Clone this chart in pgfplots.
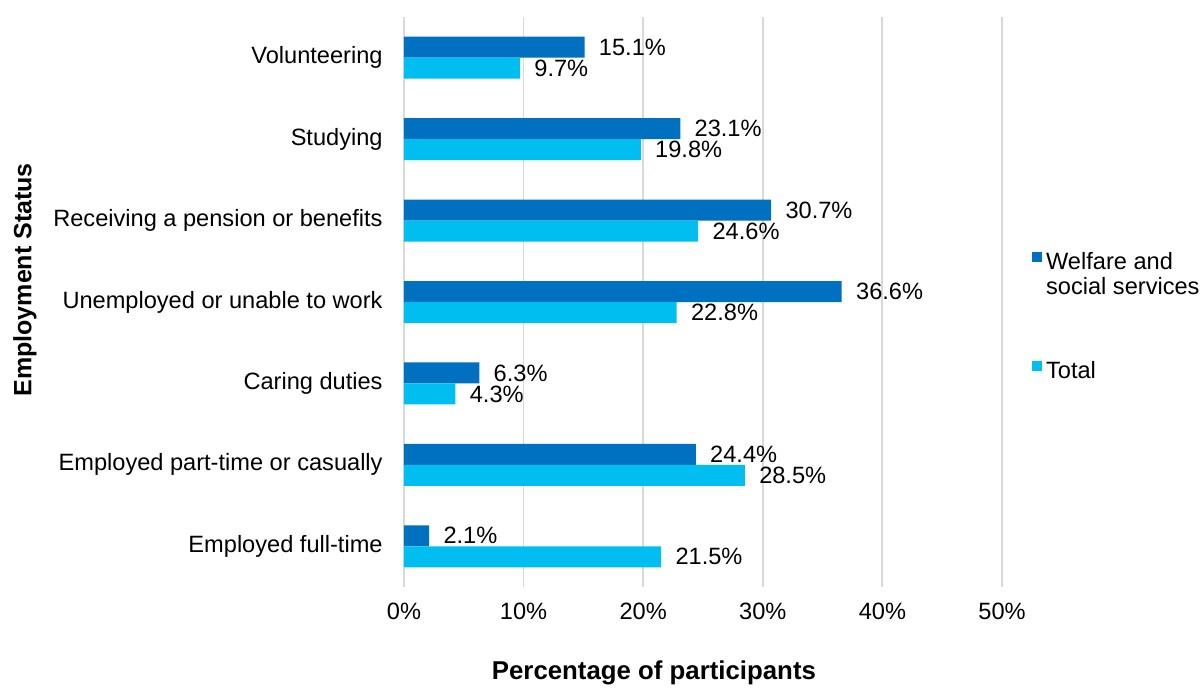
\documentclass[border=0pt]{standalone}
\usepackage{fontspec}
\setmainfont{Liberation Sans}
\usepackage{pgfplots}
\pgfplotsset{compat=1.18}
\definecolor{darkb}{HTML}{0070C0}
\definecolor{lightb}{HTML}{00BEF0}
\definecolor{gridc}{HTML}{D9D9D9}
\newcommand{\tf}{\fontsize{11.8}{12.5}\selectfont}
\begin{document}
\begin{tikzpicture}
\begin{axis}[
  at={(0,0)}, anchor=south west,
  scale only axis,
  width=299pt, height=285pt,
  xbar,
  xmin=0, xmax=50,
  ymin=-0.5, ymax=6.5,
  bar width=10.5pt,
  xtick={0,10,20,30,40,50},
  xticklabels={0\%,10\%,20\%,30\%,40\%,50\%},
  ytick={0,1,2,3,4,5,6},
  yticklabels={Employed full-time,Employed part-time or casually,Caring duties,Unemployed or unable to work,Receiving a pension or benefits,Studying,Volunteering},
  major tick length=0pt,
  axis line style={draw=none},
  xmajorgrids,
  grid style={gridc, line width=0.9pt},
  xticklabel style={font=\tf, anchor=north, inner sep=0pt, yshift=-8pt},
  yticklabel style={font=\tf, anchor=east, inner sep=0pt, xshift=-10.5pt},
  xlabel={Percentage of participants},
  xlabel style={font=\fontsize{12.9}{14}\selectfont\bfseries, at={(axis description cs:0.418,-0.151)}, anchor=center},
  ylabel={Employment Status},
  ylabel style={font=\fontsize{12.5}{14}\selectfont\bfseries, at={(axis description cs:-0.634,0.539)}, anchor=center, rotate=0},
  nodes near coords={\pgfmathprintnumber[fixed,fixed zerofill,precision=1,assume math mode=true]{\pgfplotspointmeta}\%},
  nodes near coords style={font=\tf, anchor=west, inner sep=0pt, xshift=7pt, black},
  legend style={at={(1.0497,0.596)}, anchor=north west, draw=none, fill=none, inner sep=0pt, row sep=40.5pt, font=\tf},
  legend cell align=left,
  legend image code/.code={\fill[#1] (0pt,0pt) rectangle (5pt,5pt);},
]
\addplot[fill=darkb, draw=none, bar shift=5.25pt] coordinates {
(2.1,0) (24.4,1) (6.3,2) (36.6,3) (30.7,4) (23.1,5) (15.1,6)};
\addlegendentry{\begin{tabular}[t]{@{}l@{}}Welfare and\\social services\end{tabular}}
\addplot[fill=lightb, draw=none, bar shift=-5.25pt] coordinates {
(21.5,0) (28.5,1) (4.3,2) (22.8,3) (24.6,4) (19.8,5) (9.7,6)};
\addlegendentry{Total}
\end{axis}
\pgfresetboundingbox
\path (-202pt,-50pt) rectangle (400pt,293.5pt);
\end{tikzpicture}
\end{document}
